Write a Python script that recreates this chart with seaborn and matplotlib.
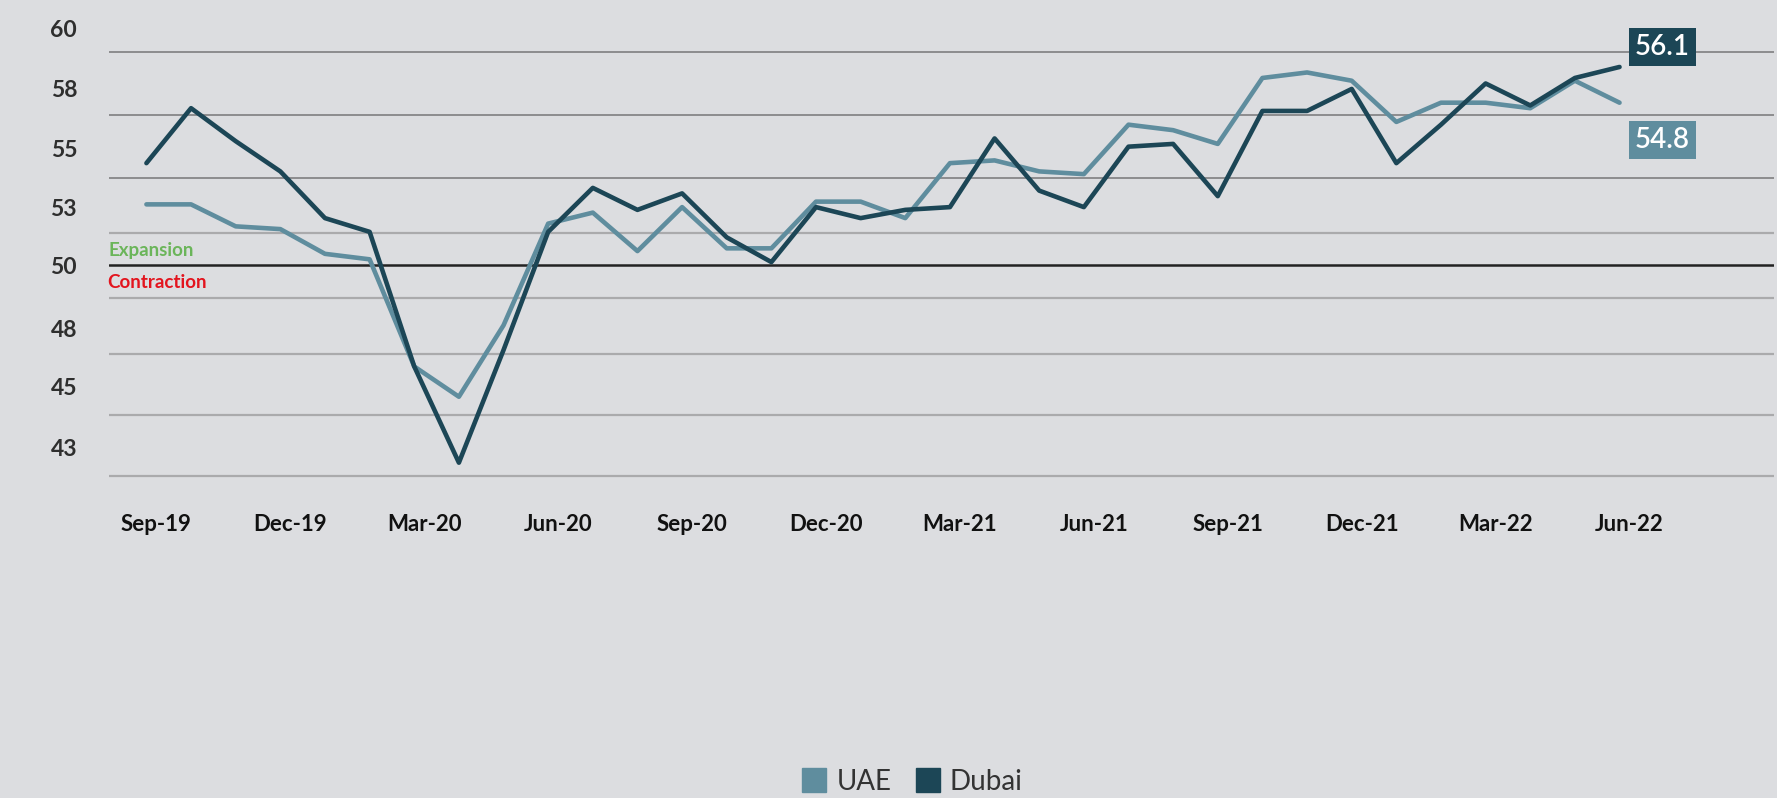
import matplotlib
matplotlib.use("Agg")
import matplotlib.pyplot as plt
import matplotlib.transforms as mtransforms
from matplotlib.lines import Line2D
import numpy as np
import pandas as pd
import seaborn as sns

# monthly PMI readings, Sep-19 .. Jun-22
months = list(pd.date_range("2019-09-01", periods=34, freq="MS").strftime("%b-%y"))
uae = [51.1, 51.1, 50.3, 50.2, 49.3, 49.1, 45.2, 44.1, 46.7, 50.4, 50.8, 49.4,
       51.0, 49.5, 49.5, 51.2, 51.2, 50.6, 52.6, 52.7, 52.3, 52.2, 54.0, 53.8,
       53.3, 55.7, 55.9, 55.6, 54.1, 54.8, 54.8, 54.6, 55.6, 54.8]
dubai = [52.6, 54.6, 53.4, 52.3, 50.6, 50.1, 45.2, 41.7, 45.8, 50.1, 51.7, 50.9,
         51.5, 49.9, 49.0, 51.0, 50.6, 50.9, 51.0, 53.5, 51.6, 51.0, 53.2, 53.3,
         51.4, 54.5, 54.5, 55.3, 52.6, 54.0, 55.5, 54.7, 55.7, 56.1]

# axis decorations as drawn on the original
ytick_pos = [57.5, 55.3, 53.15, 51.0, 48.88, 46.6, 44.47, 42.25]
ytick_labels = ["60", "58", "55", "53", "50", "48", "45", "43"]
grid_dark = [56.63, 54.34, 52.07]
grid_light = [50.07, 47.70, 45.66, 43.44, 41.22]
threshold = 48.88

colors = {"UAE": "#5f8d9e", "Dubai": "#1c4656"}
bg = "#dcdde0"

sns.set_style("white", {"axes.facecolor": bg, "figure.facecolor": bg})
plt.rcParams["font.family"] = ["Lato", "DejaVu Sans"]

df = pd.DataFrame({
    "idx": list(range(len(months))) * 2,
    "value": uae + dubai,
    "series": ["UAE"] * len(uae) + ["Dubai"] * len(dubai),
})

fig = plt.figure(figsize=(17.77, 7.98), dpi=100)
ax = fig.add_axes([109 / 1777, 1 - 490 / 798, 1665 / 1777, 490 / 798])

for g in grid_dark:
    ax.axhline(g, color="#8c8c8e", lw=1.4, zorder=1)
for g in grid_light:
    ax.axhline(g, color="#aaaaac", lw=1.6, zorder=1)
ax.axhline(threshold, color="#222222", lw=1.8, zorder=1)

sns.lineplot(data=df, x="idx", y="value", hue="series", palette=colors,
             hue_order=["UAE", "Dubai"], linewidth=3.3, legend=False, ax=ax,
             zorder=3)

ax.set_xlim(-0.838, 36.46)
ax.set_ylim(40.706, 58.537)
ax.set_xlabel("")
ax.set_ylabel("")
for s in ax.spines.values():
    s.set_visible(False)

ax.set_yticks(ytick_pos)
ax.set_yticklabels(ytick_labels, fontsize=16.5, fontweight="bold", color="#2e2e2e")
ax.tick_params(axis="y", length=0, pad=23)

xt = list(range(0, len(months), 3))
ax.set_xticks(xt)
ax.set_xticklabels([months[i] for i in xt], fontsize=16, fontweight="bold", color="#111111")
ax.tick_params(axis="x", length=0, pad=17)
shift = mtransforms.ScaledTranslation(10 / 100, 0, fig.dpi_scale_trans)
for lab in ax.get_xticklabels():
    lab.set_transform(lab.get_transform() + shift)

trans = mtransforms.blended_transform_factory(ax.transAxes, ax.transData)
ax.text(0.0, 49.41, "Expansion", transform=trans, color="#6bb55a", fontsize=13.5,
        fontweight="bold", va="center", ha="left")
ax.text(-0.001, 48.27, "Contraction", transform=trans, color="#e3141e", fontsize=13.5,
        fontweight="bold", va="center", ha="left")

# end-of-series value boxes
last = len(months) - 1
ax.annotate(f"{dubai[-1]:.1f}", xy=(last, dubai[-1]), xytext=(43, 20),
            textcoords="offset pixels", ha="center", va="center", color="white",
            fontsize=20, fontweight="semibold",
            bbox=dict(boxstyle="square,pad=0.22", fc=colors["Dubai"], ec="none"))
ax.annotate(f"{uae[-1]:.1f}", xy=(last, uae[-1]), xytext=(43, -37),
            textcoords="offset pixels", ha="center", va="center", color="white",
            fontsize=20, fontweight="semibold",
            bbox=dict(boxstyle="square,pad=0.22", fc=colors["UAE"], ec="none"))

handles = [Line2D([], [], marker="s", ls="", color=colors[k], markersize=17) for k in ["UAE", "Dubai"]]
fig.legend(handles, ["UAE", "Dubai"], loc="center", ncol=2, frameon=False,
           bbox_to_anchor=(913 / 1777, 1 - 782 / 798), fontsize=20,
           handlelength=0.8, handletextpad=0.4, columnspacing=0.9,
           labelcolor="#333333")

fig.savefig("out.png", dpi=100, facecolor=bg)
